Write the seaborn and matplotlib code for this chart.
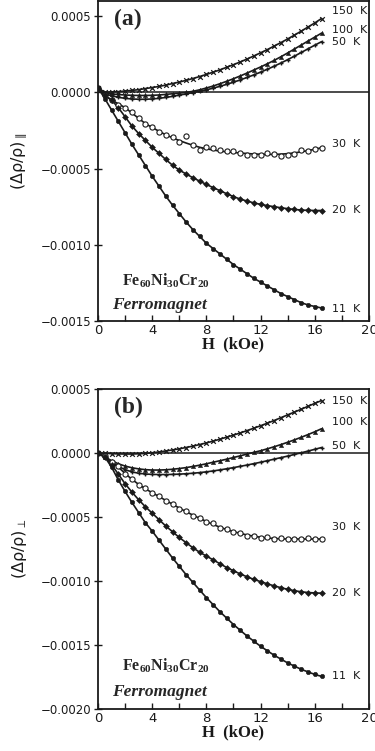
import numpy as np
import pandas as pd
import matplotlib
matplotlib.use("Agg")
import matplotlib.pyplot as plt
from matplotlib.ticker import FixedLocator, FuncFormatter
import seaborn as sns

# ---------------- data (values in units of 1e-4) ----------------
SCALE = 1e-4
H = [0.0, 0.5, 1.0, 1.5, 2.0, 2.5, 3.0, 3.5, 4.0, 4.5, 5.0, 5.5, 6.0, 6.5, 7.0, 7.5, 8.0,
     8.5, 9.0, 9.5, 10.0, 10.5, 11.0, 11.5, 12.0, 12.5, 13.0, 13.5, 14.0, 14.5, 15.0, 15.5,
     16.0, 16.5]

temps = ["150 K", "100 K", "50 K", "30 K", "20 K", "11 K"]

# panel (a): parallel
a150 = [0.3, 0.01, 0.03, 0.05, 0.09, 0.13, 0.18, 0.25, 0.32, 0.39, 0.48, 0.58, 0.68, 0.79, 0.91,
        1.04, 1.18, 1.33, 1.48, 1.65, 1.82, 2.00, 2.19, 2.39, 2.60, 2.81, 3.04, 3.27, 3.51, 3.76,
        4.02, 4.29, 4.56, 4.85]
a100 = [0.3, -0.05, -0.1, -0.14, -0.17, -0.19, -0.2, -0.2, -0.19, -0.17, -0.13, -0.09, -0.05, 0.0,
        0.07, 0.17, 0.29, 0.42, 0.57, 0.73, 0.9, 1.08, 1.27, 1.47, 1.67, 1.88, 2.1, 2.34, 2.59,
        2.85, 3.11, 3.37, 3.63, 3.89]
a50 = [0.3, -0.1, -0.22, -0.32, -0.39, -0.43, -0.45, -0.45, -0.43, -0.39, -0.33, -0.26, -0.18,
       -0.1, -0.02, 0.07, 0.17, 0.28, 0.4, 0.53, 0.67, 0.82, 0.98, 1.15, 1.33, 1.52, 1.72, 1.93,
       2.15, 2.38, 2.62, 2.86, 3.1, 3.33]
a30_fit = [0.3, -0.2, -0.5, -0.75, -1.0, -1.35, -1.7, -2.05, -2.3, -2.55, -2.78, -2.98, -3.16,
           -3.32, -3.47, -3.6, -3.7, -3.78, -3.85, -3.9, -3.94, -3.98, -4.01, -4.04, -4.06, -4.07,
           -4.07, -4.05, -4.02, -3.97, -3.9, -3.82, -3.73, -3.63]
a30_pts = [0.3, -0.2, -0.5, -0.8, -1.05, -1.3, -1.7, -2.1, -2.25, -2.6, -2.8, -2.95, -3.25, -2.85,
           -3.45, -3.75, -3.6, -3.65, -3.75, -3.85, -3.85, -3.95, -4.1, -4.08, -4.1, -3.95, -4.05,
           -4.15, -4.1, -4.05, -3.75, -3.85, -3.7, -3.62]
a20 = [0.3, -0.2, -0.5, -1.0, -1.6, -2.2, -2.7, -3.15, -3.6, -4.0, -4.4, -4.78, -5.1, -5.35, -5.6,
       -5.82, -6.04, -6.25, -6.45, -6.65, -6.84, -7.0, -7.13, -7.25, -7.35, -7.43, -7.5, -7.57,
       -7.63, -7.68, -7.72, -7.74, -7.75, -7.75]
a11 = [0.3, -0.4, -1.15, -1.9, -2.65, -3.4, -4.1, -4.8, -5.5, -6.15, -6.8, -7.4, -7.95, -8.5,
       -9.0, -9.45, -9.9, -10.25, -10.6, -10.95, -11.3, -11.6, -11.9, -12.2, -12.45, -12.7,
       -12.95, -13.2, -13.4, -13.6, -13.8, -13.95, -14.05, -14.15]

# panel (b): perpendicular
b150 = [0.0, -0.02, -0.05, -0.07, -0.08, -0.08, -0.06, -0.03, 0.02, 0.08, 0.16, 0.24, 0.33, 0.43,
        0.54, 0.66, 0.79, 0.93, 1.08, 1.24, 1.4, 1.57, 1.75, 1.94, 2.13, 2.33, 2.54, 2.76, 2.98,
        3.2, 3.42, 3.65, 3.88, 4.1]
b100 = [0.0, -0.3, -0.6, -0.84, -1.02, -1.15, -1.24, -1.3, -1.33, -1.33, -1.31, -1.27, -1.21,
        -1.14, -1.05, -0.95, -0.84, -0.72, -0.6, -0.48, -0.35, -0.22, -0.08, 0.05, 0.18, 0.33,
        0.49, 0.66, 0.84, 1.03, 1.23, 1.44, 1.66, 1.9]
b50 = [0.0, -0.35, -0.72, -1.05, -1.3, -1.47, -1.58, -1.64, -1.67, -1.68, -1.68, -1.67, -1.65,
       -1.62, -1.58, -1.53, -1.47, -1.4, -1.32, -1.23, -1.14, -1.04, -0.94, -0.83, -0.72, -0.6,
       -0.48, -0.36, -0.24, -0.11, 0.02, 0.15, 0.29, 0.43]
b30_fit = [0.0, -0.3, -0.65, -1.1, -1.6, -2.05, -2.45, -2.8, -3.1, -3.4, -3.7, -4.0, -4.3, -4.58,
           -4.85, -5.1, -5.35, -5.58, -5.8, -5.98, -6.14, -6.28, -6.4, -6.5, -6.58, -6.64, -6.68,
           -6.7, -6.72, -6.72, -6.72, -6.72, -6.72, -6.72]
b30_pts = [0.0, -0.25, -0.7, -1.0, -1.65, -2.0, -2.5, -2.75, -3.15, -3.35, -3.75, -3.95, -4.35,
           -4.5, -4.9, -5.05, -5.4, -5.5, -5.85, -5.9, -6.2, -6.25, -6.45, -6.45, -6.65, -6.6,
           -6.75, -6.65, -6.75, -6.7, -6.75, -6.65, -6.7, -6.75]
b20 = [0.0, -0.3, -0.9, -1.65, -2.4, -3.05, -3.65, -4.2, -4.7, -5.2, -5.7, -6.15, -6.6, -7.0,
       -7.4, -7.75, -8.05, -8.35, -8.65, -8.95, -9.2, -9.45, -9.67, -9.87, -10.05, -10.22,
       -10.38, -10.52, -10.65, -10.76, -10.84, -10.9, -10.93, -10.95]
b11 = [0.0, -0.3, -1.1, -2.1, -3.0, -3.85, -4.65, -5.45, -6.1, -6.8, -7.5, -8.2, -8.85, -9.5,
       -10.1, -10.7, -11.3, -11.85, -12.4, -12.9, -13.4, -13.85, -14.3, -14.7, -15.1, -15.45,
       -15.8, -16.1, -16.4, -16.65, -16.9, -17.1, -17.3, -17.45]

# label y-positions (data units, 1e-4)
labels_a_y = [5.35, 4.1, 3.3, -3.4, -7.7, -14.2]
labels_b_y = [4.1, 2.4, 0.55, -5.8, -10.9, -17.4]

yticks_a = [0.0005, 0.0, -0.0005, -0.0010, -0.0015]
yticks_b = [0.0005, 0.0, -0.0005, -0.0010, -0.0015, -0.0020]
xticks = [0, 4, 8, 12, 16, 20]
xminor = [2, 6, 10, 14, 18]

# ---------------- style ----------------
sns.set_theme(style="ticks")
plt.rcParams["font.family"] = ["DejaVu Sans"]
plt.rcParams["mathtext.default"] = "regular"

fig = plt.figure(figsize=(3.75, 7.51), dpi=100)
ax_a = fig.add_axes([0.2613, 0.5726, 0.7227, 0.4261])
ax_b = fig.add_axes([0.2613, 0.0559, 0.7227, 0.4261])

markers = {
    "150 K": dict(marker="x", s=11, color="k", linewidth=0.9),
    "100 K": dict(marker="^", s=9, color="k", edgecolor="k", linewidth=0.4),
    "50 K": dict(marker="+", s=12, color="k", linewidth=1.0),
    "30 K": dict(marker="o", s=14, facecolor="white", edgecolor="k", linewidth=0.8),
    "20 K": dict(marker="D", s=9, color="k", edgecolor="k", linewidth=0.4),
    "11 K": dict(marker="o", s=10, color="k", edgecolor="k", linewidth=0.4),
}


def ytick_fmt(v, pos):
    if abs(v) < 1e-12:
        return "0.0000"
    return f"{v:.4f}".replace("-", "\u2212")


def draw(ax, fits, pts, lab_y, yticks, ylim, ylabel, tag):
    Hs = np.array(H)
    for name, fit, p in zip(temps, fits, pts):
        sns.lineplot(x=Hs, y=np.array(fit) * SCALE, ax=ax, color="k", lw=1.2,
                     estimator=None, sort=False)
        sns.scatterplot(x=Hs, y=np.array(p) * SCALE, ax=ax, zorder=3, **markers[name])
    ax.axhline(0, color="k", lw=1.1, zorder=1)
    for name, yv in zip(temps, lab_y):
        ax.text(17.3, yv * SCALE, name.replace(" ", "  "), ha="left", va="center",
                fontsize=8, color="k")
    ax.set_xlim(0, 20)
    ax.set_ylim(*ylim)
    ax.xaxis.set_major_locator(FixedLocator(xticks))
    ax.xaxis.set_minor_locator(FixedLocator(xminor))
    ax.yaxis.set_major_locator(FixedLocator(yticks))
    ax.yaxis.set_major_formatter(FuncFormatter(ytick_fmt))
    ax.tick_params(axis="x", which="both", direction="in", length=4, width=1.0,
                   labelsize=9.5, pad=2, colors="k")
    ax.tick_params(axis="y", which="both", direction="inout", length=6, width=1.0,
                   labelsize=8.5, pad=2, colors="k")
    for sp in ax.spines.values():
        sp.set_visible(True)
        sp.set_linewidth(1.3)
        sp.set_color("k")
    ax.set_xlabel("H  (kOe)", fontsize=12, fontweight="bold",
                  family=["Liberation Serif", "DejaVu Serif"], labelpad=0, color="k")
    ax.set_ylabel(ylabel, fontsize=11.5, color="k")
    ax.yaxis.set_label_coords(-0.255, 0.5)
    ax.text(0.06, 0.975, tag, transform=ax.transAxes, ha="left", va="top",
            fontsize=17, fontweight="bold", family=["Liberation Serif", "DejaVu Serif"])
    ax.grid(False)


draw(ax_a, [a150, a100, a50, a30_fit, a20, a11], [a150, a100, a50, a30_pts, a20, a11],
     labels_a_y, yticks_a, (-0.0015, 0.0006), r"$(\Delta\rho/\rho)_{\parallel}$", "(a)")
draw(ax_b, [b150, b100, b50, b30_fit, b20, b11], [b150, b100, b50, b30_pts, b20, b11],
     labels_b_y, yticks_b, (-0.0020, 0.0005), r"$(\Delta\rho/\rho)_{\perp}$", "(b)")

for ax, yfe, yfm in [(ax_a, 0.125, 0.05), (ax_b, 0.135, 0.053)]:
    ax.text(0.088, yfe, r"Fe$_{60}$Ni$_{30}$Cr$_{20}$", transform=ax.transAxes,
            ha="left", va="center", fontsize=11.5, fontweight="bold",
            family=["Liberation Serif", "DejaVu Serif"])
    ax.text(0.05, yfm, "Ferromagnet", transform=ax.transAxes, ha="left", va="center",
            fontsize=12.5, fontweight="bold", fontstyle="italic",
            family=["Liberation Serif", "DejaVu Serif"])

fig.savefig("out.png", dpi=100)
